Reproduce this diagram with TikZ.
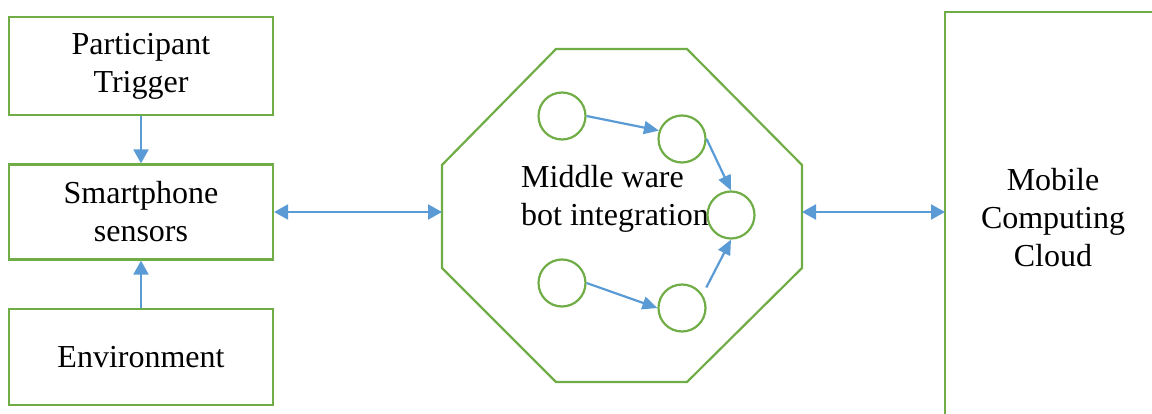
\documentclass[tikz,border=0pt]{standalone}
\usepackage{fontspec}
\setmainfont{Liberation Serif}
\usetikzlibrary{arrows.meta,calc}
\definecolor{gr}{HTML}{70AD47}
\definecolor{bl}{HTML}{5B9BD5}
\begin{document}
\begin{tikzpicture}[x=1pt,y=-1pt,
  txt/.style={font=\fontsize{32}{38}\selectfont,align=center,inner sep=0pt},
  box/.style={txt,draw=gr,line width=2.2pt,minimum width=264pt},
  circ/.style={circle,draw=gr,line width=2.2pt,minimum size=47pt,inner sep=0pt},
  conn/.style={draw=bl,line width=2.2pt,-{Triangle[length=14pt,width=15pt]}},
  dconn/.style={draw=bl,line width=2.2pt,{Triangle[length=14pt,width=15pt]}-{Triangle[length=14pt,width=15pt]}},
  sconn/.style={draw=bl,line width=2.2pt,-{Triangle[length=15pt,width=13pt]}}]
\useasboundingbox (0,0) rectangle (1152,414);
% left boxes
\node[box,minimum height=98pt] (pt) at (141,66) {Participant\\Trigger};
\node[box,minimum height=95pt] (ss) at (141,212) {Smartphone\\sensors};
\node[box,minimum height=96pt] (env) at (141,357) {Environment};
\draw[conn] (pt.south) -- (ss.north);
\draw[conn] (env.north) -- (ss.south);
% octagon
\draw[gr,line width=2.2pt] (556,49) -- (687,49) -- (802,165) -- (802,268) -- (687,382) -- (556,382) -- (442,268) -- (442,165) -- cycle;
\coordinate (octL) at (442,212);
\coordinate (octR) at (802,212);
\node[txt,align=left,anchor=north west] (mw) at (521,165) {Middle ware\\bot integration};
% circles
\node[circ] (c1) at (562,116) {};
\node[circ] (c2) at (682,139) {};
\node[circ] (c3) at (731,215) {};
\node[circ] (c4) at (562,283) {};
\node[circ] (c5) at (682,308) {};
\draw[sconn] (c1.east) -- (c2.160);
\draw[sconn] (c2.east) -- (c3.north);
\draw[sconn] (c4.east) -- (c5.west);
\draw[sconn,shorten <=8pt] (c5.33) -- (c3.south);
% cloud box
\draw[gr,line width=2.2pt] (1152,12) -- (945,12) -- (945,414);
\coordinate (cloudL) at (945,212);
\node[txt] (cl) at (1053,218) {Mobile\\Computing\\Cloud};
% connectors
\draw[dconn] (ss.east) -- (octL);
\draw[dconn] (octR) -- (cloudL);
\end{tikzpicture}
\end{document}
